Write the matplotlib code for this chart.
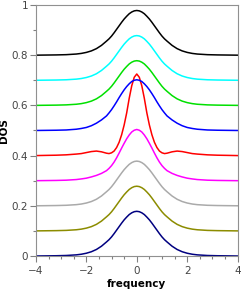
import numpy as np
import matplotlib
matplotlib.use("Agg")
import matplotlib.pyplot as plt
from matplotlib.ticker import MultipleLocator

# half profiles (x >= 0), curves are symmetric about 0
x_half = [0.0, 0.1, 0.2, 0.3, 0.4, 0.5, 0.6, 0.7, 0.8, 0.9, 1.0, 1.1, 1.2,
          1.4, 1.6, 1.8, 2.0, 2.2, 2.4, 2.8, 3.2, 3.6, 4.0]

wide = [0.178, 0.1765, 0.172, 0.165, 0.155, 0.144, 0.131, 0.117, 0.103, 0.089,
        0.076, 0.065, 0.056, 0.039, 0.026, 0.017, 0.011, 0.007, 0.0045,
        0.002, 0.001, 0.0005, 0.0]
narrow_blue = [0.202, 0.200, 0.195, 0.186, 0.175, 0.162, 0.147, 0.131, 0.114,
               0.098, 0.083, 0.070, 0.058, 0.042, 0.029, 0.019, 0.012, 0.008,
               0.005, 0.002, 0.001, 0.0005, 0.0]
narrow_mag = [0.204, 0.201, 0.194, 0.182, 0.167, 0.149, 0.130, 0.110, 0.091,
              0.074, 0.060, 0.049, 0.040, 0.029, 0.021, 0.015, 0.010, 0.007,
              0.0045, 0.002, 0.001, 0.0005, 0.0]
peaked_red = [0.325, 0.312, 0.278, 0.228, 0.170, 0.122, 0.083, 0.053, 0.032,
              0.018, 0.011, 0.008, 0.0095, 0.015, 0.018, 0.016, 0.012, 0.008,
              0.006, 0.003, 0.0015, 0.0008, 0.0]

# bottom to top
offsets = [0.0, 0.1, 0.2, 0.3, 0.4, 0.5, 0.6, 0.7, 0.8]
profiles = [wide, wide, wide, narrow_mag, peaked_red, narrow_blue, wide, wide, wide]
colors = ["#000080", "#8c8c00", "#aaaaaa", "#ff00ff", "#ff0000",
          "#0000ff", "#00e000", "#00ffff", "#000000"]

xh = np.array(x_half)
x = np.concatenate([-xh[::-1], xh[1:]])

fig = plt.figure(figsize=(2.41, 2.92), dpi=100)
ax = fig.add_axes([0.149, 0.1233, 0.837, 0.8597])

for off, prof, c in zip(offsets, profiles, colors):
    p = np.array(prof)
    y = np.concatenate([p[::-1], p[1:]]) + off
    ax.plot(x, y, color=c, lw=1.1)

ax.set_xlim(-4, 4)
ax.set_ylim(0, 1)
ax.xaxis.set_major_locator(MultipleLocator(2))
ax.xaxis.set_minor_locator(MultipleLocator(0.5))
ax.yaxis.set_major_locator(MultipleLocator(0.2))
ax.yaxis.set_minor_locator(MultipleLocator(0.1))
ax.set_yticks([0, 0.2, 0.4, 0.6, 0.8, 1.0])
ax.set_yticklabels(["0", "0.2", "0.4", "0.6", "0.8", "1"])

for s in ax.spines.values():
    s.set_color("#909090")
    s.set_linewidth(0.8)
ax.tick_params(which="both", direction="out", colors="#808080",
               labelcolor="#444444", labelsize=7.5, top=False, right=False)
ax.tick_params(which="major", length=4, width=0.8, pad=1.5)
ax.tick_params(which="minor", length=2.5, width=0.8)
ax.tick_params(axis="x", which="major", pad=3)

ax.set_xlabel("frequency", fontsize=7.5, fontweight="bold", labelpad=2.5)
ax.set_ylabel("DOS", fontsize=7.5, fontweight="bold", labelpad=2)

fig.savefig("out.png", dpi=100)
